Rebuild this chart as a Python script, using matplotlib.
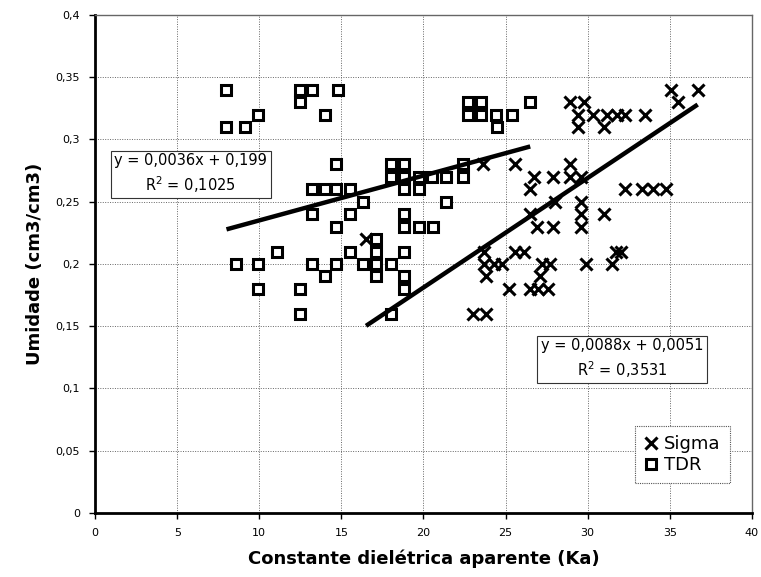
import matplotlib
matplotlib.use("Agg")
import matplotlib.pyplot as plt
import numpy as np

# Sigma readings (Ka, umidade)
sigma_x = [16.5, 23.6, 25.6, 23.7, 25.6, 26.1, 23.7, 24.3, 24.8, 23.8,
           25.2, 26.5, 27.0, 27.6, 23.0, 23.8, 28.9, 29.8, 29.4, 30.3,
           31.2, 31.8, 32.3, 33.5, 29.4, 31.0, 35.1, 36.7, 35.5, 28.9,
           26.7, 27.9, 28.9, 29.6, 26.5, 32.3, 33.3, 34.0, 34.8, 28.0,
           29.6, 26.5, 29.6, 31.0, 26.9, 27.9, 29.6, 31.7, 32.0, 27.2,
           27.7, 29.9, 31.5, 27.1]
sigma_y = [0.22, 0.28, 0.28, 0.21, 0.21, 0.21, 0.20, 0.20, 0.20, 0.19,
           0.18, 0.18, 0.18, 0.18, 0.16, 0.16, 0.33, 0.33, 0.32, 0.32,
           0.32, 0.32, 0.32, 0.32, 0.31, 0.31, 0.34, 0.34, 0.33, 0.28,
           0.27, 0.27, 0.27, 0.27, 0.26, 0.26, 0.26, 0.26, 0.26, 0.25,
           0.25, 0.24, 0.24, 0.24, 0.23, 0.23, 0.23, 0.21, 0.21, 0.20,
           0.20, 0.20, 0.20, 0.19]

# TDR readings
tdr_x = [8.0, 8.0, 9.1, 9.9, 12.5, 12.5, 13.2, 14.0, 14.8,
         8.6, 9.9, 11.1, 9.9, 12.5, 12.5, 13.2, 13.2, 13.2,
         14.7, 14.0, 14.7, 15.5, 18.0, 18.8, 18.0, 18.8, 19.7, 20.5,
         21.4, 22.4, 22.4, 18.8, 19.7, 16.3, 21.4, 15.5, 18.8, 14.7,
         18.8, 19.7, 20.6, 17.1, 15.5, 17.1, 18.8, 14.7, 16.3, 17.1,
         18.0, 14.0, 17.1, 18.8, 18.8, 18.0, 22.7, 23.5, 22.7, 23.5,
         24.4, 25.4, 24.5, 26.5]
tdr_y = [0.34, 0.31, 0.31, 0.32, 0.34, 0.33, 0.34, 0.32, 0.34,
         0.20, 0.20, 0.21, 0.18, 0.18, 0.16, 0.26, 0.24, 0.20,
         0.28, 0.26, 0.26, 0.26, 0.28, 0.28, 0.27, 0.27, 0.27, 0.27,
         0.27, 0.27, 0.28, 0.26, 0.26, 0.25, 0.25, 0.24, 0.24, 0.23,
         0.23, 0.23, 0.23, 0.22, 0.21, 0.21, 0.21, 0.20, 0.20, 0.20,
         0.20, 0.19, 0.19, 0.19, 0.18, 0.16, 0.33, 0.33, 0.32, 0.32,
         0.32, 0.32, 0.31, 0.33]

# trend lines as printed on the chart
sigma_fit = [0.0088, 0.0051]
tdr_fit = [0.0036, 0.199]
sigma_eq = "y = 0,0088x + 0,0051\nR$^2$ = 0,3531"
tdr_eq = "y = 0,0036x + 0,199\nR$^2$ = 0,1025"

xticks = [0, 5, 10, 15, 20, 25, 30, 35, 40]
yticks = [0, 0.05, 0.1, 0.15, 0.2, 0.25, 0.3, 0.35, 0.4]
ytick_labels = ["0", "0,05", "0,1", "0,15", "0,2", "0,25", "0,3", "0,35", "0,4"]

fig = plt.figure(figsize=(7.61, 5.77), dpi=100)
ax = fig.add_axes([0.125, 0.111, 0.863, 0.863])

ax.grid(True, color="#666666", linestyle=(0, (1, 1.5)), linewidth=0.7)
ax.set_axisbelow(True)

ax.plot(sigma_x, sigma_y, "x", color="black", ms=8.5, mew=2.2, label="Sigma",
        linestyle="none")
ax.plot(tdr_x, tdr_y, "s", mfc="white", mec="black", ms=7.5, mew=2.2,
        label="TDR", linestyle="none")

xs = np.array([min(tdr_x), max(tdr_x)])
ax.plot(xs, tdr_fit[0] * xs + tdr_fit[1], color="black", lw=3.2,
        solid_capstyle="butt")
xs = np.array([min(sigma_x), max(sigma_x)])
ax.plot(xs, sigma_fit[0] * xs + sigma_fit[1], color="black", lw=3.2,
        solid_capstyle="butt")

box = dict(boxstyle="square,pad=0.25", facecolor="white", edgecolor="#333333",
           linewidth=0.8)
ax.text(5.82, 0.2723, tdr_eq, ha="center", va="center", fontsize=10.5,
        linespacing=1.35, bbox=box)
ax.text(32.1, 0.1237, sigma_eq, ha="center", va="center", fontsize=10.5,
        linespacing=1.35, bbox=box)

ax.set_xlim(0, 40)
ax.set_ylim(0, 0.4)
ax.set_xticks(xticks)
ax.set_yticks(yticks)
ax.set_yticklabels(ytick_labels)
ax.tick_params(labelsize=8, length=4, width=1, direction="out", pad=7)

for side in ["left", "bottom"]:
    ax.spines[side].set_linewidth(2)
    ax.spines[side].set_color("black")
for side in ["top", "right"]:
    ax.spines[side].set_linewidth(1)
    ax.spines[side].set_color("#666666")
    ax.spines[side].set_linestyle((0, (2, 1)))

ax.set_xlabel("Constante dielétrica aparente (Ka)", fontsize=13,
              fontweight="bold", labelpad=8)
ax.set_ylabel("Umidade (cm3/cm3)", fontsize=13, fontweight="bold",
              labelpad=8)

leg = ax.legend(loc="lower right", bbox_to_anchor=(0.966, 0.06),
                borderaxespad=0, fontsize=13, handlelength=0.8,
                handletextpad=0.3, borderpad=0.5, labelspacing=0.15,
                fancybox=False, framealpha=1)
leg.get_frame().set_edgecolor("#555555")
leg.get_frame().set_linestyle((0, (1, 1)))
leg.get_frame().set_linewidth(0.8)

fig.savefig("out.png", dpi=100)
